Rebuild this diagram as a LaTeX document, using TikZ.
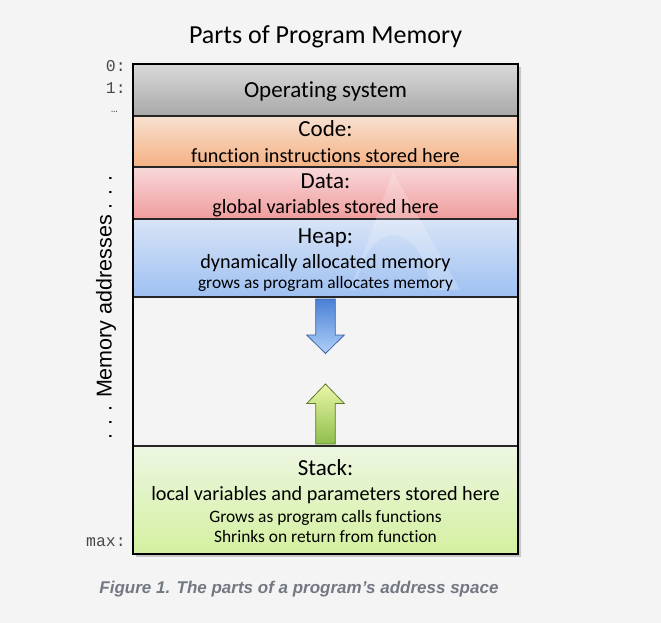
\documentclass[tikz,border=0pt]{standalone}
\usepackage{fontspec}
\setmainfont{Carlito}[Ligatures={NoCommon}]
\newfontfamily\monof{Liberation Mono}
\newfontfamily\sansf{Liberation Sans}
\definecolor{bgc}{HTML}{F4F4F4}
\definecolor{osT}{HTML}{DADADA}
\definecolor{osB}{HTML}{A8A8A8}
\definecolor{codeT}{HTML}{F8E0D0}
\definecolor{codeB}{HTML}{F4B183}
\definecolor{dataT}{HTML}{F8D8DA}
\definecolor{dataB}{HTML}{F09C9C}
\definecolor{heapT}{HTML}{D8E4F6}
\definecolor{heapB}{HTML}{9EC0F2}
\definecolor{stackT}{HTML}{EDF6E2}
\definecolor{stackB}{HTML}{D4F0A0}
\definecolor{addrc}{HTML}{484848}
\definecolor{capc}{HTML}{737882}
\definecolor{blueT}{HTML}{4A80D6}
\definecolor{blueB}{HTML}{B0D0F8}
\definecolor{blueE}{HTML}{3D66A8}
\definecolor{greenT}{HTML}{EAF7A8}
\definecolor{greenB}{HTML}{8FBE4A}
\definecolor{greenE}{HTML}{5E7A2C}
\begin{document}
\begin{tikzpicture}[x=1pt,y=-1pt,
  seg/.style={draw=black!85,line width=1.1pt,minimum width=385pt,inner sep=0pt,outer sep=0pt},
  big/.style={anchor=base,font=\fontsize{23}{23}\selectfont},
  mid/.style={anchor=base,font=\fontsize{20.2}{20.2}\selectfont},
  small/.style={anchor=base,font=\fontsize{17.4}{17.4}\selectfont},
  addr/.style={anchor=base east,text=addrc,font=\monof\fontsize{16.5}{16.5}\selectfont,inner sep=0pt}]
\useasboundingbox (0,0) rectangle (661,623);
\fill[bgc] (0,0) rectangle (661,623);
% shadow
\fill[black!22] (136,67) rectangle (521,557);
% segments
\node[seg,top color=osT,bottom color=osB,minimum height=52pt] (os) at (325.5,90) {};
\node[seg,top color=codeT,bottom color=codeB,minimum height=51pt] (code) at (325.5,141.5) {};
\node[seg,top color=dataT,bottom color=dataB,minimum height=52pt] (data) at (325.5,193) {};
\node[seg,top color=heapT,bottom color=heapB,minimum height=78pt] (heap) at (325.5,258) {};
\node[seg,fill=bgc,minimum height=149pt] (free) at (325.5,371.5) {};
\node[seg,top color=stackT,bottom color=stackB,minimum height=108pt] (stack) at (325.5,500) {};
% faint watermark
\fill[white,opacity=0.2] (393,172) -- (460,290) -- (430,290) .. controls (428,250) and (405,235) .. (393,235) .. controls (381,235) and (360,250) .. (356,290) -- (350,290) -- cycle;
% frame
\node[draw=black,line width=2.6pt,minimum width=385pt,minimum height=490pt,inner sep=0pt] (frame) at (325.5,309) {};
% arrows
\shade[top color=blueT,bottom color=blueB,draw=blueE,line width=0.8pt,line join=miter]
  (315.7,299) -- (335.3,299) -- (335.3,335) -- (344.3,335) -- (325.5,353.5) -- (306.7,335) -- (315.7,335) -- cycle;
\shade[top color=greenT,bottom color=greenB,draw=greenE,line width=0.8pt,line join=miter]
  (315.7,444) -- (335.3,444) -- (335.3,403.5) -- (344.3,403.5) -- (325.5,384) -- (306.7,403.5) -- (315.7,403.5) -- cycle;
% texts
\node[anchor=base,font=\fontsize{26}{26}\selectfont] (title) at (325.5,44) {Parts of Program Memory};
\node[big] (ost) at (325.5,98) {Operating system};
\node[big] (codet) at (325.5,137) {Code:};
\node[mid] (coded) at (325.5,162) {function instructions stored here};
\node[big] (datat) at (325.5,188.5) {Data:};
\node[mid] (datad) at (325.5,213) {global variables stored here};
\node[big] (heapt) at (325.5,243) {Heap:};
\node[mid] (heapd) at (325.5,268) {dynamically allocated memory};
\node[small] (heape) at (325.5,288.5) {grows as program allocates memory};
\node[big] (stackt) at (325.5,475.5) {Stack:};
\node[mid] (stackd) at (325.5,500) {local variables and parameters stored here};
\node[small] (stacke) at (325.5,522) {Grows as program calls functions};
\node[small] (stackf) at (325.5,542) {Shrinks on return from function};
% address labels
\node[addr] (a0) at (126,71.7) {0:};
\node[addr] (a1) at (126,93.3) {1:};
\node[addr] (adots) at (118,113) {\fontsize{11}{11}\selectfont…};
\node[addr] (amax) at (126,546.5) {max:};
\node[rotate=90,anchor=base,inner sep=0pt,font=\sansf\fontsize{21.5}{21.5}\selectfont] (maddr) at (111.5,307.5) {. . . Memory addresses . . .};
% caption
\node[anchor=base,text=capc,font=\sansf\bfseries\itshape\fontsize{17}{17}\selectfont] (cap) at (299,593) {Figure 1. The parts of a program’s address space};
\end{tikzpicture}
\end{document}
